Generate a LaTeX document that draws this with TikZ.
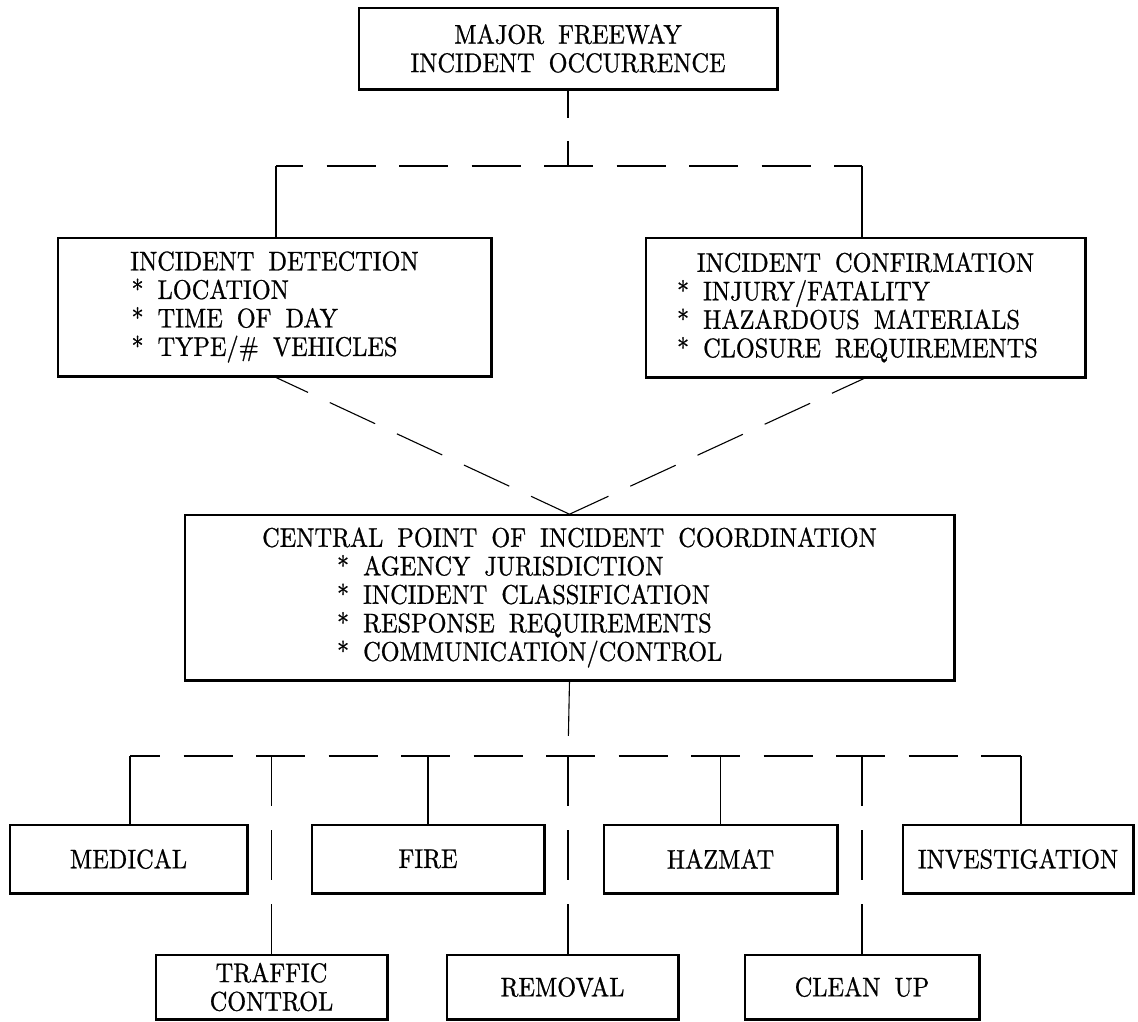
\documentclass[tikz,border=0pt]{standalone}
\usepackage{fontspec}
\setmainfont{lmroman10-regular}[Extension=.otf, FakeBold=0.8, FakeStretch=0.9]
\newcommand{\blin}[2]{\makebox[#1][l]{#2}}
\newcommand{\diagfont}{\fontsize{27}{28.5}\selectfont\spaceskip=14pt plus 2pt minus 1pt\relax}
\begin{document}
\begin{tikzpicture}[x=1pt,y=-1pt,
  box/.style={draw, line width=1.6pt, inner sep=0pt, align=center, font=\diagfont},
  conn/.style={line width=1.1pt},
  dsh/.style={line width=1.5pt, dash pattern=on 49pt off 23.5pt},
  diag/.style={line width=1.1pt, dash pattern=on 50pt off 24pt, dash phase=13pt},
  vdsh/.style={line width=1.1pt, dash pattern=on 50pt off 24pt}
]
\useasboundingbox[fill=white] (0,0) rectangle (1138,1021);

% boxes
\node[box, minimum width=418pt, minimum height=81pt] (top) at (568,48.5)
  {MAJOR FREEWAY\\INCIDENT OCCURRENCE};
\node[box, minimum width=433pt, minimum height=138pt] (det) at (274.5,307)
  {INCIDENT DETECTION\\
   \blin{286pt}{* LOCATION}\\
   \blin{286pt}{* TIME OF DAY}\\
   \blin{286pt}{* TYPE/\# VEHICLES}};
\node[box, minimum width=439pt, minimum height=139pt] (conf) at (865.5,307.5)
  {INCIDENT CONFIRMATION\\
   \blin{377pt}{* INJURY/FATALITY}\\
   \blin{377pt}{* HAZARDOUS MATERIALS}\\
   \blin{377pt}{* CLOSURE REQUIREMENTS}};
\node[box, minimum width=769pt, minimum height=165pt] (cent) at (569.5,597.5)
  {CENTRAL POINT OF INCIDENT COORDINATION\\
   \blin{465pt}{* AGENCY JURISDICTION}\\
   \blin{465pt}{* INCIDENT CLASSIFICATION}\\
   \blin{465pt}{* RESPONSE REQUIREMENTS}\\
   \blin{465pt}{* COMMUNICATION/CONTROL}};
\node[box, minimum width=237pt, minimum height=68pt] (med) at (128.5,859) {MEDICAL};
\node[box, minimum width=232pt, minimum height=68pt] (fire) at (428,859) {FIRE};
\node[box, minimum width=233pt, minimum height=68pt] (haz) at (720.5,859) {HAZMAT};
\node[box, minimum width=230pt, minimum height=68pt] (inv) at (1018,859) {INVESTIGATION};
\node[box, minimum width=231pt, minimum height=64pt] (traf) at (271.5,987) {TRAFFIC\\CONTROL};
\node[box, minimum width=231pt, minimum height=64pt] (rem) at (562.5,987) {REMOVAL};
\node[box, minimum width=234pt, minimum height=64pt] (clean) at (862,987) {CLEAN UP};

% heavier right and bottom edges
\foreach \n in {top,det,conf,cent,med,fire,haz,inv,traf,rem,clean}{
  \draw[line width=2.8pt] (\n.south west) -- (\n.south east) -- (\n.north east);
}

% junction points
\coordinate (jt) at (568,166);
\coordinate (jl) at (276,166);
\coordinate (jr) at (862,166);
\coordinate (jb) at (568,756);
\coordinate (bl) at (130,756);
\coordinate (br) at (1021,756);

% top part
\draw[conn, dash pattern=on 28pt off 23pt] (top.south) -- (jt);
\draw[dsh, dash phase=22pt] (jl) -- (jr);
\draw[conn] (jl) -- (jl |- det.north);
\draw[conn] (jr) -- (jr |- conf.north);

% diagonals to central point
\draw[diag] (det.south) -- (cent.north);
\draw[diag] (conf.south) -- (cent.north);

% central to bottom
\draw[conn, dash pattern=on 55pt off 30pt] (cent.south) -- (jb);
\draw[dsh, dash phase=19pt] (bl) -- (br);

\draw[conn] (bl) -- (bl |- med.north);
\draw[conn] (fire.north |- bl) -- (fire.north);
\draw[conn] (haz.north |- bl) -- (haz.north);
\draw[conn] (br) -- (br |- inv.north);

\draw[vdsh] (traf.north |- bl) -- (traf.north);
\draw[vdsh] (jb) -- (jb |- rem.north);
\draw[vdsh] (clean.north |- bl) -- (clean.north);
\end{tikzpicture}
\end{document}
